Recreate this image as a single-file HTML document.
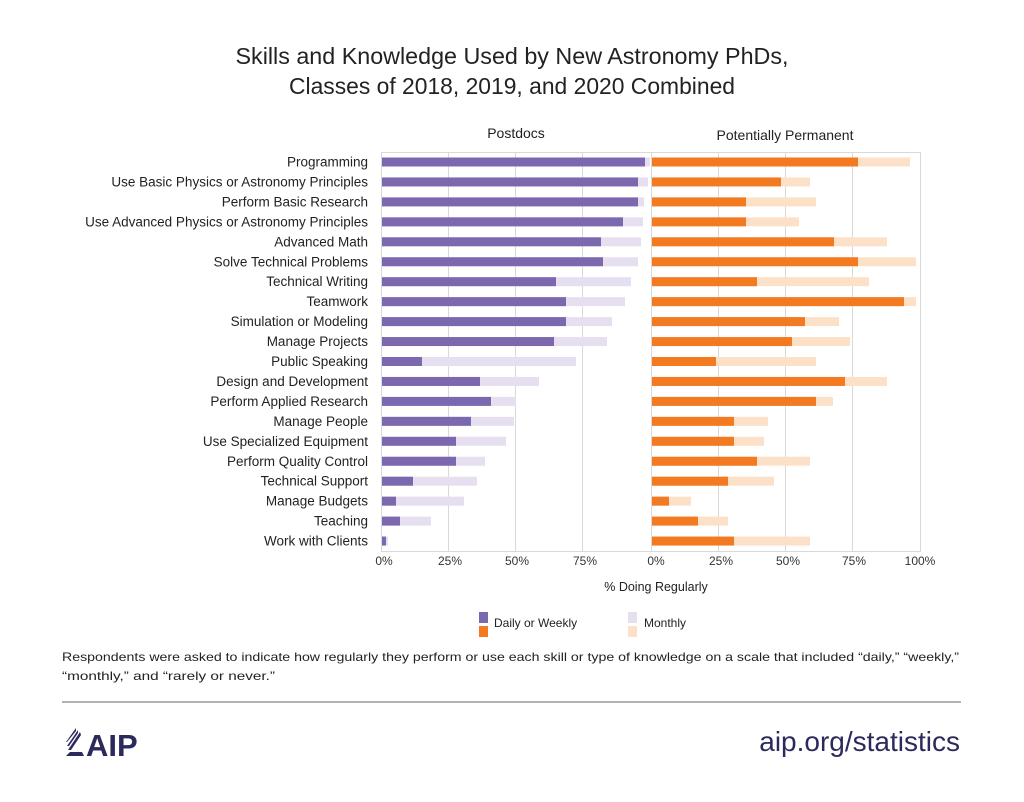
<!DOCTYPE html>
<html><head><meta charset="utf-8"><style>
body{margin:0;background:#fff;}
svg{display:block;font-family:"Liberation Sans",sans-serif;}
</style></head><body>
<svg width="1024" height="802" viewBox="0 0 1024 802" xmlns="http://www.w3.org/2000/svg">
<rect width="1024" height="802" fill="#fff"/>
<text x="512" y="64" font-size="23" text-anchor="middle" fill="#222" textLength="553" lengthAdjust="spacingAndGlyphs">Skills and Knowledge Used by New Astronomy PhDs,</text>
<text x="512" y="94" font-size="23" text-anchor="middle" fill="#222" textLength="446" lengthAdjust="spacingAndGlyphs">Classes of 2018, 2019, and 2020 Combined</text>
<text x="516" y="138" font-size="14" text-anchor="middle" fill="#222">Postdocs</text>
<text x="785" y="140" font-size="14" text-anchor="middle" fill="#222">Potentially Permanent</text>
<g stroke="#d9d9d9" stroke-width="1">
<rect x="381.5" y="152.5" width="539" height="399" fill="none"/>
<line x1="448.5" y1="152" x2="448.5" y2="552"/><line x1="515.5" y1="152" x2="515.5" y2="552"/><line x1="582.5" y1="152" x2="582.5" y2="552"/><line x1="651.5" y1="152" x2="651.5" y2="552"/>
<line x1="718.5" y1="152" x2="718.5" y2="552"/><line x1="785.5" y1="152" x2="785.5" y2="552"/><line x1="852.5" y1="152" x2="852.5" y2="552"/>
</g>
<g font-size="13.5" fill="#222" text-anchor="end" id="labels"></g>
<g id="bars"></g>
<g font-size="12" fill="#333" text-anchor="middle">
<text x="384" y="565">0%</text><text x="450" y="565">25%</text><text x="517" y="565">50%</text><text x="585" y="565">75%</text>
<text x="656" y="565">0%</text><text x="721" y="565">25%</text><text x="788" y="565">50%</text><text x="854" y="565">75%</text><text x="920" y="565">100%</text>
</g>
<text x="656" y="591" font-size="12.5" text-anchor="middle" fill="#222">% Doing Regularly</text>
<rect x="479" y="612" width="9" height="11" fill="#7b68ae"/><rect x="479" y="626" width="9" height="11" fill="#f37a21"/>
<text x="494" y="627" font-size="12" fill="#222">Daily or Weekly</text>
<rect x="628" y="612" width="9" height="11" fill="#e6dff0"/><rect x="628" y="626" width="9" height="11" fill="#fde0c8"/>
<text x="644" y="627" font-size="12" fill="#222">Monthly</text>
<text x="62" y="661" font-size="12" fill="#222" textLength="897" lengthAdjust="spacingAndGlyphs">Respondents were asked to indicate how regularly they perform or use each skill or type of knowledge on a scale that included “daily,” “weekly,”</text>
<text x="62" y="680" font-size="12" fill="#222" textLength="213" lengthAdjust="spacingAndGlyphs">“monthly,” and “rarely or never.”</text>
<line x1="62" y1="702" x2="961" y2="702" stroke="#999" stroke-width="1.5"/>
<g fill="#2b2a5c">
<path d="M66 756 L84 756 L82 752 L70 752 Z"/>
<path d="M68 750 L80 732 L81 735 L71 750 Z"/>
<path d="M67 746 L78 730 L78 733 L69 746 Z"/>
<path d="M66 742 L76 728 L76 731 L67 742 Z"/>
<text x="86" y="756" font-size="31" font-weight="bold">AIP</text>
<text x="960" y="751" font-size="28" text-anchor="end">aip.org/statistics</text>
</g>
<script>
var rows=[["Programming",645,650,858,910],["Use Basic Physics or Astronomy Principles",638,648,781,810],["Perform Basic Research",638,644,746,816],["Use Advanced Physics or Astronomy Principles",623,643,746,799],["Advanced Math",601,641,834,887],["Solve Technical Problems",603,638,858,916],["Technical Writing",556,631,757,869],["Teamwork",566,625,904,916],["Simulation or Modeling",566,612,805,839],["Manage Projects",554,607,792,850],["Public Speaking",422,576,716,816],["Design and Development",480,539,845,887],["Perform Applied Research",491,516,816,833],["Manage People",471,514,734,768],["Use Specialized Equipment",456,506,734,764],["Perform Quality Control",456,485,757,810],["Technical Support",413,477,728,774],["Manage Budgets",396,464,669,691],["Teaching",400,431,698,728],["Work with Clients",386,388,734,810]];
var ns="http://www.w3.org/2000/svg",L=document.getElementById("labels"),B=document.getElementById("bars");
function r(x,y,w,h,f){var e=document.createElementNS(ns,"rect");e.setAttribute("x",x);e.setAttribute("y",y);e.setAttribute("width",Math.max(0,w));e.setAttribute("height",h);e.setAttribute("fill",f);B.appendChild(e);}
rows.forEach(function(d,i){var c=162+i*19.95;
var t=document.createElementNS(ns,"text");t.setAttribute("x",368);t.setAttribute("y",c+4.5);t.textContent=d[0];L.appendChild(t);
r(382,c-4.5,d[2]-382,9,"#e6dff0");r(382,c-4.5,d[1]-382,9,"#7b68ae");
r(652,c-4.5,d[4]-652,9,"#fde0c8");r(652,c-4.5,d[3]-652,9,"#f37a21");});
</script>
</svg>
</body></html>
